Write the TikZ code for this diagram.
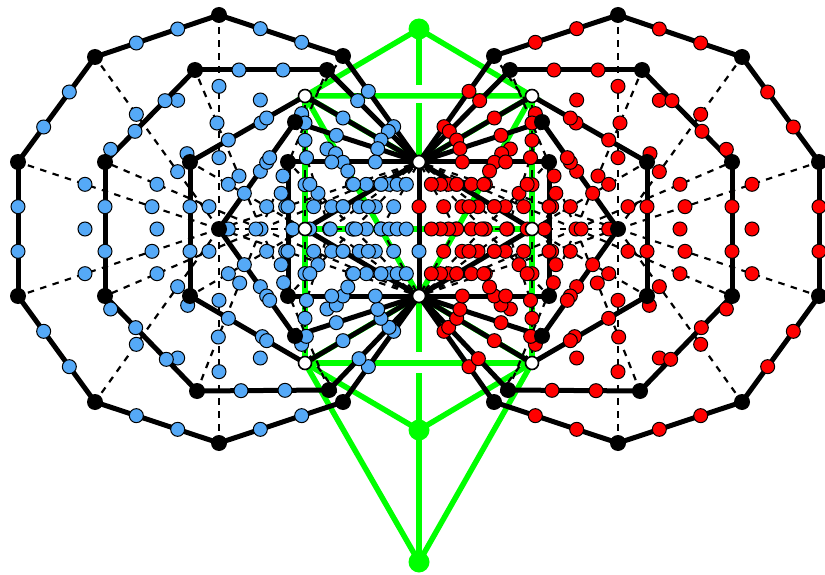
\documentclass[tikz,border=0pt]{standalone}
\usetikzlibrary{calc}
\pgfdeclarelayer{gr}\pgfdeclarelayer{da}\pgfdeclarelayer{ed}\pgfdeclarelayer{yo}\pgfdeclarelayer{to}
\pgfsetlayers{main,gr,da,ed,yo,to}
\definecolor{yblue}{HTML}{55A9F7}
\definecolor{yred}{HTML}{FF0000}
\definecolor{ygreen}{HTML}{00FF00}
\tikzset{
  yodbase/.style={circle,draw=black,line width=1pt,inner sep=0pt,minimum size=14pt},
  yodL/.style={yodbase,fill=yblue},
  yodR/.style={yodbase,fill=yred},
  bk/.style={circle,fill=black,inner sep=0pt,minimum size=16pt},
  wh/.style={circle,draw=black,line width=1.6pt,fill=white,inner sep=0pt,minimum size=13pt},
  gn/.style={circle,fill=ygreen,inner sep=0pt,minimum size=21pt},
  thick edge/.style={line width=5pt,draw=black,line cap=round},
  spoke/.style={line width=2.2pt,draw=black,dash pattern=on 6.5pt off 6.5pt},
  gline/.style={line width=5.5pt,draw=ygreen}
}
% sector-wise tetractys yods of a polygon: #1 centre, #2 vertices from T round to B
\newcommand\polyg[2]{%
  \foreach \vv [count=\ii, remember=\vv as \uu (initially B)] in {#2}{%
    \begin{pgfonlayer}{da}\draw[spoke] (\p#1.center) -- (\p\vv.center);\end{pgfonlayer}
    \begin{pgfonlayer}{ed}\draw[thick edge] (\p\uu.center) -- (\p\vv.center);\end{pgfonlayer}
    \begin{pgfonlayer}{yo}
      \node[yod\p] (\p#1\vv a) at ($(\p#1.center)!1/3!(\p\vv.center)$) {};
      \node[yod\p] (\p#1\vv b) at ($(\p#1.center)!2/3!(\p\vv.center)$) {};
      \node[yod\p] (\p#1\ii c) at (barycentric cs:\p#1=1,\p\uu=1,\p\vv=1) {};
      \ifnum\ii>1
        \node[yod\p] (\p#1\ii d) at ($(\p\uu.center)!1/3!(\p\vv.center)$) {};
        \node[yod\p] (\p#1\ii e) at ($(\p\uu.center)!2/3!(\p\vv.center)$) {};
      \fi
    \end{pgfonlayer}
  }%
}
\newcommand\halfside[2]{%
  \def\p{#1}%
  \begin{pgfonlayer}{to}
    \node[wh] (\p T) at (#2,162) {};
    \node[wh] (\p B) at (#2,296) {};
    % decagon
    \node[bk] (\p d1) at (343,56) {};
    \node[bk] (\p d2) at (219,15) {};
    \node[bk] (\p d3) at (95,57) {};
    \node[bk] (\p d4) at (18,162) {};
    \node[bk] (\p d5) at (18,296) {};
    \node[bk] (\p d6) at (95,402) {};
    \node[bk] (\p d7) at (219,443) {};
    \node[bk] (\p d8) at (343,402) {};
    \node[bk] (\p dc) at (219,229) {};
    % octagon
    \node[bk] (\p o1) at (327,70) {};
    \node[bk] (\p o2) at (195,70) {};
    \node[bk] (\p o3) at (105,162) {};
    \node[bk] (\p o4) at (105,296) {};
    \node[bk] (\p o5) at (197,391) {};
    \node[bk] (\p o6) at (329,390) {};
    % hexagon
    \node[wh] (\p h1) at (305,96) {};
    \node[bk] (\p h2) at (190,162) {};
    \node[bk] (\p h3) at (190,296) {};
    \node[wh] (\p h4) at (305,363) {};
    \node[wh] (\p hc) at (305,229) {};
    % pentagon
    \node[bk] (\p p1) at (295,122) {};
    \node[bk] (\p p3) at (295,336) {};
    % square
    \node[bk] (\p s1) at (288,162) {};
    \node[bk] (\p s2) at (288,296) {};
  \end{pgfonlayer}
  \begin{pgfonlayer}{yo}
    \node[yod\p] (\p oc) at (261,229) {};
    \node[yod\p] (\p pc) at (329.5,229) {};
    \node[yod\p] (\p sc) at (353.5,229) {};
    \node[yod\p] (\p tc) at (381,229) {};
  \end{pgfonlayer}
  \polyg{dc}{T,d1,d2,d3,d4,d5,d6,d7,d8,B}
  \polyg{oc}{T,o1,o2,o3,o4,o5,o6,B}
  \polyg{hc}{T,h1,h2,h3,h4,B}
  \polyg{pc}{T,p1,dc,p3,B}
  \polyg{sc}{T,s1,s2,B}
  \polyg{tc}{T,hc,B}
}
\begin{document}
\begin{tikzpicture}[x=1pt,y=-1pt]
\useasboundingbox (0,0) rectangle (825,575);
\fill[white] (0,0) rectangle (825,575);
\begin{scope}\halfside{L}{419}\end{scope}
\begin{scope}[shift={(837,0)},xscale=-1]\halfside{R}{418}\end{scope}
% central edge yods
\begin{pgfonlayer}{yo}
  \node[yodR] (m1) at ($(LT.center)!1/3!(LB.center)$) {};
  \node[yodL] (m2) at ($(LT.center)!2/3!(LB.center)$) {};
\end{pgfonlayer}
% green tree of life
\begin{pgfonlayer}{gr}
  \node[gn] (k) at (419,29) {};
  \node[gn] (f) at (419,430) {};
  \node[gn] (g) at (419,562) {};
  \coordinate (a1) at (419,85);
  \coordinate (a2) at (419,103);
  \coordinate (a3) at (419,352);
  \coordinate (a4) at (419,373);
  \draw[gline] (k.center) -- (Lh1.center) -- (Rh1.center) -- cycle;
  \draw[gline] (Lh1.center) -- (Lhc.center) -- (Lh4.center);
  \draw[gline] (Rh1.center) -- (Rhc.center) -- (Rh4.center);
  \draw[gline] (Lhc.center) -- (Rhc.center);
  \draw[gline] (Lh4.center) -- (Rh4.center);
  \draw[gline] (Lh1.center) -- (LB.center) -- (Rh1.center);
  \draw[gline] (Lh1.center) -- (LT.center) -- (Rh1.center);
  \draw[gline] (Lh4.center) -- (LB.center) -- (Rh4.center);
  \draw[gline] (Lh4.center) -- (f.center) -- (Rh4.center);
  \draw[gline] (Lh4.center) -- (g.center) -- (Rh4.center);
  \draw[gline] (k.center) -- (a1);
  \draw[gline] (a2) -- (LT.center);
  \draw[gline] (LB.center) -- (a3);
  \draw[gline] (a4) -- (f.center) -- (g.center);
\end{pgfonlayer}
\end{tikzpicture}
\end{document}
